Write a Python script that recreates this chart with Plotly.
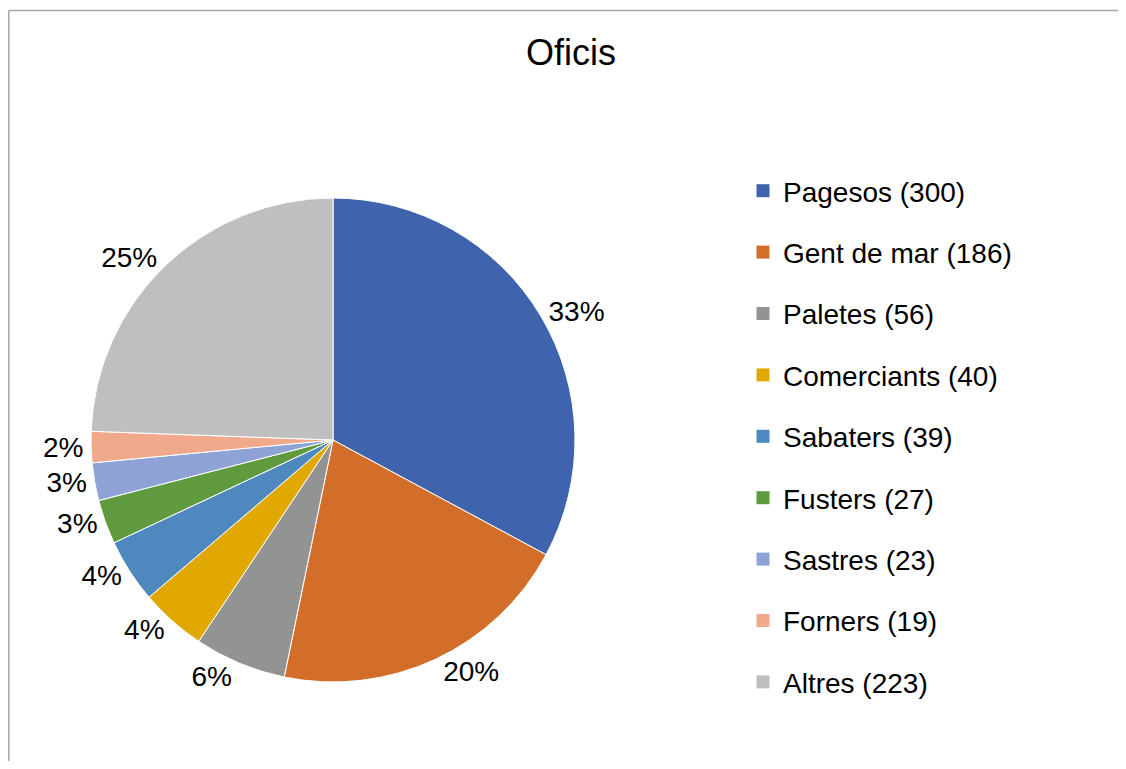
import plotly.graph_objects as go

categories = ["Pagesos", "Gent de mar", "Paletes", "Comerciants", "Sabaters",
              "Fusters", "Sastres", "Forners", "Altres"]
values = [300, 186, 56, 40, 39, 27, 23, 19, 223]
pct_labels = ["33%", "20%", "6%", "4%", "4%", "3%", "3%", "2%", "25%"]
colors = ["#3F64AD", "#D36E2A", "#939393", "#E0A800", "#4E88BE",
          "#5F9A3F", "#8FA2D5", "#F0A98B", "#BFBFBF"]
title_text = "Oficis"

# page has an 8px body margin; the figure is sized so the page does not scroll
W, H = 1118, 753
FONT = "Liberation Sans, Arial, sans-serif"

legend_names = [f"{c} ({v})" for c, v in zip(categories, values)]

fig = go.Figure()
fig.add_trace(go.Pie(
    labels=categories,
    values=values,
    text=pct_labels,
    textinfo="text",
    textposition="outside",
    textfont=dict(size=28, color="#000000", family=FONT),
    marker=dict(colors=colors, line=dict(color="#FFFFFF", width=1)),
    sort=False,
    direction="clockwise",
    rotation=0,
    showlegend=False,
    hoverinfo="label+value+percent",
    domain=dict(x=[83 / W, 567 / W], y=[(H - 674) / H, (H - 190) / H]),
))

for name, col in zip(legend_names, colors):
    fig.add_trace(go.Scatter(
        x=[None], y=[None], mode="markers", name=name,
        marker=dict(symbol="square", size=13, color=col),
        legendgroup=name, showlegend=True,
    ))

top_y = 1 - 2.5 / H
left_x = 0.8 / W
fig.update_layout(
    width=W, height=H,
    margin=dict(l=0, r=0, t=0, b=0),
    paper_bgcolor="#FFFFFF", plot_bgcolor="#FFFFFF",
    font=dict(family=FONT, color="#000000"),
    title=dict(text=title_text, x=563 / W, xanchor="center",
               y=1 - 44 / H, yanchor="middle",
               font=dict(size=36, color="#000000", family=FONT)),
    xaxis=dict(visible=False), yaxis=dict(visible=False),
    legend=dict(x=735 / W, xanchor="left", y=1 - 158 / H, yanchor="top",
                font=dict(size=28, color="#000000", family=FONT),
                tracegroupgap=22, itemsizing="trace", bgcolor="rgba(0,0,0,0)"),
    shapes=[
        dict(type="line", xref="paper", yref="paper",
             x0=left_x, x1=1.0, y0=top_y, y1=top_y,
             line=dict(color="#A6A6A6", width=1.5), layer="below"),
        dict(type="line", xref="paper", yref="paper",
             x0=left_x, x1=left_x, y0=0.0, y1=top_y,
             line=dict(color="#A6A6A6", width=1.5), layer="below"),
    ],
)

fig.write_html("out.html")
